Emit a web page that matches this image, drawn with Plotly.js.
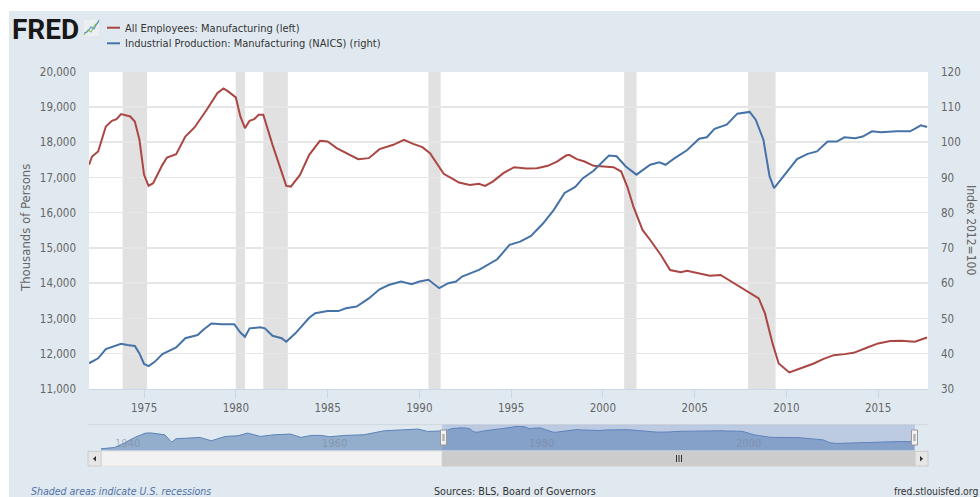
<!DOCTYPE html>
<html><head><meta charset="utf-8">
<script src="https://cdn.plot.ly/plotly-3.0.1.min.js"></script>
<style>html,body{margin:0;padding:0;background:#fff;overflow:hidden}#chart{width:980px;height:497px}</style>
</head><body><div id="chart"></div>
<script>
// ---- DATA ----
const empDates = ['1972-01','1972-03','1972-07','1972-12','1973-04','1973-07','1973-10','1974-04','1974-07','1974-10',
 '1975-01','1975-04','1975-07','1976-01','1976-04','1976-10','1977-04','1977-10','1978-06','1979-01','1979-05','1979-08',
 '1980-01','1980-04','1980-07','1980-10','1981-01','1981-04','1981-07','1982-01','1982-10','1983-01','1983-07','1984-01',
 '1984-08','1985-01','1985-07','1986-01','1986-09','1987-04','1987-11','1988-08','1989-03','1989-09','1990-03','1990-08',
 '1991-01','1991-05','1991-10','1992-03','1992-10','1993-04','1993-08','1994-01','1994-08','1995-03','1995-11','1996-06',
 '1997-01','1997-07','1998-01','1998-03','1998-08','1999-01','1999-07','2000-02','2000-08','2001-01','2001-05','2001-09',
 '2002-03','2002-08','2003-03','2003-09','2004-04','2004-08','2005-04','2005-11','2006-06','2007-01','2007-07','2008-01',
 '2008-07','2008-11','2009-04','2009-08','2010-03','2010-10','2011-07','2012-01','2012-08','2013-03','2013-09','2014-06',
 '2015-01','2015-09','2016-04','2017-01','2017-09'];
const empValues = [17358,17594,17736,18446,18608,18656,18798,18730,18588,18068,
 17074,16761,16838,17358,17565,17662,18162,18418,18920,19394,19526,19441,
 19270,18730,18400,18608,18656,18778,18778,17926,16761,16742,17074,17642,
 18040,18020,17832,17690,17520,17548,17804,17926,18068,17954,17860,17690,
 17358,17102,16980,16855,16790,16818,16761,16884,17122,17292,17253,17264,
 17330,17452,17622,17642,17520,17452,17330,17310,17292,17168,16742,16173,
 15511,15227,14800,14375,14309,14355,14280,14213,14233,14043,13901,13741,
 13571,13145,12293,11724,11469,11582,11724,11847,11960,11989,12026,12178,
 12293,12358,12367,12339,12462];

const ipDates = ['1972-01','1972-07','1972-12','1973-05','1973-10','1974-02','1974-07','1974-10','1975-01','1975-04',
 '1975-08','1976-01','1976-10','1977-04','1977-12','1978-04','1978-09','1979-04','1979-12','1980-04','1980-07','1980-10',
 '1981-05','1981-08','1982-01','1982-07','1982-10','1983-04','1984-01','1984-05','1985-01','1985-08','1986-01','1986-08',
 '1987-04','1987-11','1988-05','1989-01','1989-08','1990-01','1990-07','1991-02','1991-08','1992-01','1992-05','1993-04',
 '1994-04','1994-12','1995-07','1996-02','1996-10','1997-05','1997-12','1998-07','1998-12','1999-07','1999-12','2000-05',
 '2000-10','2001-04','2001-11','2002-08','2003-02','2003-06','2003-12','2004-08','2005-04','2005-09','2006-02','2006-10',
 '2007-05','2008-01','2008-05','2008-10','2009-02','2009-05','2010-01','2010-08','2011-03','2011-09','2012-04','2012-10',
 '2013-03','2013-10','2014-03','2014-09','2015-03','2016-01','2016-10','2017-05','2017-09'];
const ipValues = [37.3,38.7,41.3,42.0,42.8,42.5,42.2,40.1,37.1,36.5,
 37.7,39.9,41.8,44.4,45.3,46.9,48.6,48.4,48.4,46.0,44.8,47.2,
 47.5,47.2,45.1,44.4,43.4,45.8,50.2,51.5,52.1,52.1,52.9,53.4,
 55.7,58.3,59.5,60.5,59.7,60.5,61.0,58.6,60.0,60.5,61.9,63.8,
 66.8,70.9,71.8,73.4,77.0,80.8,85.6,87.3,89.8,91.9,94.1,96.2,
 96.0,93.1,90.8,93.6,94.3,93.6,95.5,97.7,101.0,101.4,103.8,105.0,
 108.1,108.6,106.4,100.7,90.3,87.0,91.4,95.2,96.7,97.4,100.2,100.2,
 101.4,101.1,101.6,103.1,102.8,103.1,103.1,104.8,104.3];

// navigator: employment history before 1972 (the rest reuses empValues)
const navEarlyDates = ['1939-01','1940-05','1941-04','1942-04','1943-05','1943-11','1945-03','1945-11','1946-04','1947-02',
 '1948-08','1949-09','1951-01','1952-04','1953-03','1954-06','1955-10','1957-05','1958-05','1959-05','1960-05','1961-02',
 '1962-08','1964-06','1966-06','1968-05','1969-09','1970-08','1971-07'];
const navEarlyValues = [8940,9570,11620,14300,16350,16400,15560,12090,13670,13980,
 14300,12720,14770,15090,16350,14770,15560,15870,14300,15240,15240,14610,
 15240,15560,17450,17920,18240,17130,17130];
const navLabelYears = ['1940','1960','1980','2000'];

const recessionStarts = ['1973-11-01','1980-01-01','1981-07-01','1990-07-01','2001-03-01','2007-12-01'];
const recessionEnds   = ['1975-03-01','1980-07-01','1982-11-01','1991-03-01','2001-11-01','2009-06-01'];

const seriesNames = ['All Employees: Manufacturing (left)', 'Industrial Production: Manufacturing (NAICS) (right)'];
const leftTitle = 'Thousands of Persons';
const rightTitle = 'Index 2012=100';

// ---- LAYOUT ----
const W = 980, H = 497;
const px = x => x / W;
const py = y => 1 - y / H;
const NARROW = '"Liberation Sans Narrow", "DejaVu Sans Condensed", "Open Sans", sans-serif';
const START = '1972-01-01', END = '2017-09-20', NAVSTART = '1939-01-01';
const RED = '#AA4643', BLUE = '#4572A7';

const traces = [
  {x: navEarlyDates.concat(empDates), y: navEarlyValues.concat(empValues), xaxis: 'x2', yaxis: 'y3',
   type: 'scatter', mode: 'lines', fill: 'tozeroy', fillcolor: 'rgba(69,114,167,0.5)',
   line: {color: '#5b82b8', width: 1}, hoverinfo: 'skip', showlegend: false},
  {x: empDates, y: empValues, xaxis: 'x', yaxis: 'y', type: 'scatter', mode: 'lines',
   name: seriesNames[0], line: {color: RED, width: 2}, showlegend: false},
  {x: ipDates, y: ipValues, xaxis: 'x', yaxis: 'y2', type: 'scatter', mode: 'lines',
   name: seriesNames[1], line: {color: BLUE, width: 2}, showlegend: false}
];

const shapes = [
  {type: 'rect', xref: 'paper', yref: 'paper', x0: px(9), x1: 1, y0: 0, y1: py(11),
   fillcolor: '#e1e9f0', line: {width: 0}, layer: 'below'},
  {type: 'rect', xref: 'x', yref: 'y', x0: START, x1: END, y0: 11000, y1: 20000,
   fillcolor: '#ffffff', line: {width: 0}, layer: 'below'}
];
recessionStarts.forEach((s, i) => shapes.push({type: 'rect', xref: 'x', yref: 'y', x0: s, x1: recessionEnds[i],
  y0: 11000, y1: 20000, fillcolor: '#e1e1e1', line: {width: 0}, layer: 'below'}));

shapes.push(
  {type: 'line', xref: 'paper', yref: 'paper', x0: px(88), x1: px(928), y0: py(424.7), y1: py(424.7),
   line: {color: '#cfd6de', width: 1}, layer: 'above'},
  {type: 'rect', xref: 'x2', yref: 'paper', x0: START, x1: END, y0: py(450.5), y1: py(424.7),
   fillcolor: 'rgba(102,133,194,0.3)', line: {width: 0}, layer: 'above'},
  {type: 'rect', xref: 'paper', yref: 'paper', x0: px(101), x1: px(915), y0: py(466), y1: py(451.3),
   fillcolor: '#f2f2f2', line: {color: '#e6e6e6', width: 1}, layer: 'above'},
  {type: 'rect', xref: 'x2', yref: 'paper', x0: START, x1: END, y0: py(466), y1: py(451.3),
   fillcolor: '#cccccc', line: {color: '#cccccc', width: 1}, layer: 'above'},
  {type: 'rect', xref: 'paper', yref: 'paper', x0: px(88), x1: px(101), y0: py(466), y1: py(451.3),
   fillcolor: '#e6e6e6', line: {color: '#cccccc', width: 1}, layer: 'above'},
  {type: 'rect', xref: 'paper', yref: 'paper', x0: px(915), x1: px(928), y0: py(466), y1: py(451.3),
   fillcolor: '#e6e6e6', line: {color: '#cccccc', width: 1}, layer: 'above'},
  {type: 'path', xref: 'paper', yref: 'paper', layer: 'above', fillcolor: '#333', line: {width: 0},
   path: `M ${px(96)} ${py(456)} L ${px(96)} ${py(461.5)} L ${px(93)} ${py(458.7)} Z`},
  {type: 'path', xref: 'paper', yref: 'paper', layer: 'above', fillcolor: '#333', line: {width: 0},
   path: `M ${px(920)} ${py(456)} L ${px(920)} ${py(461.5)} L ${px(923)} ${py(458.7)} Z`}
);
[676.5, 679, 681.5].forEach(x => shapes.push({type: 'line', xref: 'paper', yref: 'paper', x0: px(x), x1: px(x),
  y0: py(455), y1: py(462), line: {color: '#333', width: 1}, layer: 'above'}));
[[440.5, 446.5], [911.5, 917.5]].forEach(([a, b]) => {
  shapes.push({type: 'rect', xref: 'paper', yref: 'paper', x0: px(a), x1: px(b), y0: py(445), y1: py(430),
    fillcolor: '#f2f2f2', line: {color: '#999999', width: 1}, layer: 'above'});
  [a + 2.5, b - 2.5].forEach(x => shapes.push({type: 'line', xref: 'paper', yref: 'paper', x0: px(x), x1: px(x),
    y0: py(441), y1: py(434), line: {color: '#999999', width: 1}, layer: 'above'}));
});

shapes.push(
  {type: 'line', xref: 'paper', yref: 'paper', x0: px(107), x1: px(120), y0: py(27.7), y1: py(27.7),
   line: {color: RED, width: 2}},
  {type: 'line', xref: 'paper', yref: 'paper', x0: px(107), x1: px(120), y0: py(43.3), y1: py(43.3),
   line: {color: BLUE, width: 2}}
);
shapes.push(
  {type: 'rect', xref: 'paper', yref: 'paper', x0: px(83), x1: px(100), y0: py(37), y1: py(19),
   fillcolor: '#eceff1', line: {color: '#d6dbe0', width: 0.5}},
  {type: 'path', xref: 'paper', yref: 'paper', line: {color: '#8cc63f', width: 1.2},
   path: `M ${px(84)} ${py(35)} L ${px(88)} ${py(30)} L ${px(91)} ${py(32)} L ${px(95)} ${py(25)} L ${px(99)} ${py(22)}`},
  {type: 'path', xref: 'paper', yref: 'paper', line: {color: '#5b9bd5', width: 1.2},
   path: `M ${px(84)} ${py(33)} L ${px(87)} ${py(32)} L ${px(91)} ${py(27)} L ${px(94)} ${py(29)} L ${px(99)} ${py(20)}`}
);

const ann = (x, y, text, opts) => Object.assign({xref: 'paper', yref: 'paper', x: px(x), y: py(y), text: text,
  showarrow: false, xanchor: 'left', yanchor: 'middle', font: {family: NARROW, size: 11, color: '#333'}}, opts || {});

const annotations = [
  ann(10, 29.5, '<b>FRED</b>', {font: {family: 'Roboto, "Liberation Sans", sans-serif', size: 28, color: '#1a1718'}}),
  ann(123, 28, seriesNames[0]),
  ann(123, 43.5, seriesNames[1]),
  ann(25, 228, leftTitle, {xanchor: 'center', textangle: -90, font: {family: NARROW, size: 13, color: '#666'}}),
  ann(971, 230, rightTitle, {xanchor: 'center', textangle: 90, font: {family: NARROW, size: 12, color: '#666'}}),
  ann(29, 491, '<i>Shaded areas indicate U.S. recessions</i>', {font: {family: NARROW, size: 10.5, color: '#4f72a8'}}),
  ann(515, 491, 'Sources: BLS, Board of Governors', {xanchor: 'center', font: {family: NARROW, size: 10.7, color: '#333'}}),
  ann(892, 491, 'fred.stlouisfed.org', {font: {family: NARROW, size: 10.3, color: '#333'}})
];
navLabelYears.forEach(yr => annotations.push({xref: 'x2', yref: 'paper', x: yr + '-01-01', y: py(443.5),
  xanchor: 'left', yanchor: 'middle', xshift: 2, showarrow: false, text: yr,
  font: {family: NARROW, size: 11, color: 'rgba(120,132,150,0.55)'}}));

const tickFont = {family: NARROW, size: 11.5, color: '#666'};
const layout = {
  width: W, height: H, margin: {l: 0, r: 0, t: 0, b: 0},
  paper_bgcolor: '#ffffff', plot_bgcolor: 'rgba(0,0,0,0)',
  showlegend: false, hovermode: false,
  xaxis: {type: 'date', domain: [px(89), px(928)], range: [START, END], anchor: 'y',
    tick0: '1975-01-01', dtick: 'M60', tickformat: '%Y', ticks: 'outside', ticklen: 8, tickcolor: '#ccd6eb',
    showline: true, linecolor: '#ccd6eb', linewidth: 1, showgrid: false, zeroline: false,
    tickfont: tickFont, fixedrange: true},
  yaxis: {domain: [py(389), py(71.7)], range: [11000, 20000], dtick: 1000, tickformat: ',d',
    showgrid: true, gridcolor: '#e6e6e6', gridwidth: 1.5, zeroline: false, showline: false, ticks: '',
    ticklabelstandoff: 12, tickfont: tickFont, fixedrange: true},
  yaxis2: {overlaying: 'y', side: 'right', anchor: 'x', range: [30, 120], dtick: 10, showgrid: false,
    zeroline: false, showline: false, ticks: '', ticklabelstandoff: 12, tickfont: tickFont, fixedrange: true},
  xaxis2: {type: 'date', domain: [px(101), px(915)], anchor: 'y3', range: [NAVSTART, END],
    showticklabels: false, ticks: '', showgrid: false, showline: false, zeroline: false, fixedrange: true},
  yaxis3: {domain: [py(450.5), py(424.7)], range: [8150, 20290], visible: false, fixedrange: true},
  shapes: shapes,
  annotations: annotations
};

Plotly.newPlot('chart', traces, layout, {staticPlot: true, displayModeBar: false});
</script>
</body></html>
